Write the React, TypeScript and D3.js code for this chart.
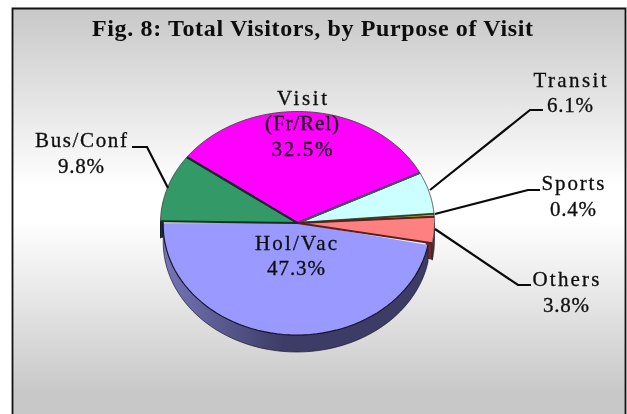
import React from "react";
import * as d3 from "d3";

const categories = ["Visit (Fr/Rel)", "Transit", "Sports", "Others", "Hol/Vac", "Bus/Conf"];
const shares = [32.5, 6.1, 0.4, 3.8, 47.3, 9.8];
const fills = ["#ff00ff", "#ccffff", "#c8c800", "#ff8080", "#9999ff", "#339966"];
const edges = ["#4a004a", "#3a5a5a", "#3a3a00", "#5a2020", "#2a2a55", "#0c3322"];
const walls = ["#800080", "#668080", "#646400", "#6e2c2c", "#3c3c66", "#123a26"];
const labels = [
  { lines: ["Visit", "(Fr/Rel)", "32.5%"], x: 302, ys: [105, 130, 156], widths: [50, 74, 61] },
  { lines: ["Transit", "6.1%"], x: 570, ys: [87, 112], widths: [73, 46] },
  { lines: ["Sports", "0.4%"], x: 573, ys: [190, 216], widths: [63, 46] },
  { lines: ["Others", "3.8%"], x: 566, ys: [286, 312], widths: [67, 46] },
  { lines: ["Hol/Vac", "47.3%"], x: 296, ys: [250, 275], widths: [82, 58] },
  { lines: ["Bus/Conf", "9.8%"], x: 81, ys: [147, 173], widths: [92, 46] },
];
const leaders: [number, number][][] = [
  [[430, 190], [530, 110], [543, 110]],
  [[435, 214], [528, 190], [540, 190]],
  [[435, 229], [518, 285], [531, 285]],
  [[132, 147], [147, 147], [168, 188]],
];
const title = "Fig. 8: Total Visitors, by Purpose of Visit";

const CX = 297.5, CY = 223, RX = 137, RY = 111.5, DEPTH = 17;
const HOL = 4; // index of the slightly inset slice
const START = (-53.8 * Math.PI) / 180;

export default function App() {
  const pie = d3.pie<number>().sort(null).startAngle(START).endAngle(START + 2 * Math.PI);
  const slices = pie(shares);
  const geom = (i: number) =>
    i === HOL
      ? { cx: 296.7, cy: 225, rx: 133.5, ry: 110 }
      : { cx: CX, cy: CY, rx: RX, ry: RY };
  const pt = (i: number, a: number, dy = 0): [number, number] => {
    const g = geom(i);
    return [g.cx + g.rx * Math.sin(a), g.cy + dy - g.ry * Math.cos(a)];
  };
  const line = d3.line<[number, number]>();
  const samples = (a0: number, a1: number) => d3.range(0, 61).map((k) => a0 + ((a1 - a0) * k) / 60);
  // every wedge shares one apex, so the inset slice leaves no gap at the hub
  const top = (i: number) => {
    const s = slices[i];
    return line([[CX, CY], ...samples(s.startAngle, s.endAngle).map((a) => pt(i, a))]) + "Z";
  };
  const outer = (i: number, a0: number, a1: number, dy = 0) =>
    line(samples(a0, a1).map((a) => pt(i, a, dy)));
  const wall = (i: number) => {
    const s = slices[i];
    const a0 = Math.max(s.startAngle, Math.PI / 2);
    const a1 = Math.min(s.endAngle, Math.PI * 1.5 + 0.02);
    if (a1 <= a0) return null;
    const front = samples(a0, a1);
    return (
      line([
        ...front.map((a) => pt(i, a)),
        ...front.slice().reverse().map((a) => pt(i, a, DEPTH)),
      ]) + "Z"
    );
  };
  const spokes = (i: number) => {
    const s = slices[i];
    return line([pt(i, s.startAngle), [CX, CY], pt(i, s.endAngle)]);
  };
  // the cut face that shows where a neighbour slice is inset
  const cutFace = (i: number, a: number, inset: number, depth: number) => {
    const g = geom(i);
    const p = pt(i, a);
    const q: [number, number] = [p[0] + (g.cx - p[0]) * inset, p[1] + (g.cy - p[1]) * inset];
    return line([p, [p[0], p[1] + depth], [q[0], q[1] + depth], q]) + "Z";
  };

  return (
    <svg
      width={627}
      height={414}
      style={{ position: "absolute", left: 0, top: 0, fontFamily: "'Liberation Serif', serif" }}
    >
      <defs>
        <linearGradient id="bg" x1="0" y1="0" x2="0" y2="1">
          <stop offset="0" stopColor="#c8c8c8" />
          <stop offset="0.46" stopColor="#ffffff" />
          <stop offset="0.55" stopColor="#ffffff" />
          <stop offset="1" stopColor="#c8c8c8" />
        </linearGradient>
        <linearGradient id="holWall" gradientUnits="userSpaceOnUse" x1="163" y1="0" x2="430" y2="0">
          <stop offset="0" stopColor="#7676b8" />
          <stop offset="0.45" stopColor="#3c3c66" />
          <stop offset="1" stopColor="#3c3c66" />
        </linearGradient>
        <filter id="soft" x="-5%" y="-20%" width="110%" height="140%">
          <feGaussianBlur stdDeviation="0.35" />
        </filter>
      </defs>
      <rect width={627} height={414} fill="#fff" />
      <rect x={13} y={9} width={612} height={385} fill="url(#bg)" />
      <rect x={13} y={394} width={612} height={20} fill="#c8c8c8" />
      <path d="M12.5,414V8.5H625.5V414" fill="none" stroke="#111" strokeWidth={1.8} />

      <path d={cutFace(3, slices[3].endAngle, 0.045, DEPTH - 1)} fill={walls[3]} stroke="#3a1414" strokeWidth={0.7} />
      <path d={cutFace(5, slices[5].startAngle, 0.02, DEPTH - 1)} fill={walls[5]} stroke="#06150e" strokeWidth={0.8} />
      {slices.map((_, i) => {
        const d = wall(i);
        return d ? (
          <path
            key={categories[i]}
            d={d}
            fill={i === HOL ? "url(#holWall)" : walls[i]}
            stroke="#1a1a2a"
            strokeWidth={0.7}
          />
        ) : null;
      })}

      {slices.map((_, i) => (
        <path key={categories[i]} d={top(i)} fill={fills[i]} />
      ))}
      {slices.map((s, i) =>
        i === HOL ? null : (
          <path
            key={categories[i]}
            d={spokes(i) ?? ""}
            fill="none"
            stroke={edges[i]}
            strokeWidth={i === 2 ? 1 : 2}
            strokeLinejoin="round"
          />
        )
      )}
      {slices.map((s, i) => (
        <path
          key={categories[i]}
          d={outer(i, s.startAngle, s.endAngle) ?? ""}
          fill="none"
          stroke={i === HOL ? "#15152a" : "#444"}
          strokeWidth={i === HOL ? 1.1 : 0.9}
        />
      ))}

      {leaders.map((pts, i) => (
        <path key={i} d={line(pts) ?? ""} fill="none" stroke="#0a0a0a" strokeWidth={2.2} />
      ))}

      <g filter="url(#soft)">
        <text
          x={312.5}
          y={36}
          textAnchor="middle"
          fontSize={24}
          fontWeight={700}
          fill="#0c0c0c"
          textLength={441}
          lengthAdjust="spacing"
        >
          {title}
        </text>
      </g>
      <g filter="url(#soft)">
        {labels.map((l) =>
          l.lines.map((t, j) => (
            <text
              key={t}
              x={l.x}
              y={l.ys[j]}
              textAnchor="middle"
              fontSize={21}
              fill="#0c0c0c"
              stroke="#0c0c0c"
              strokeWidth={0.3}
              textLength={l.widths[j]}
              lengthAdjust="spacing"
            >
              {t}
            </text>
          ))
        )}
      </g>
    </svg>
  );
}
